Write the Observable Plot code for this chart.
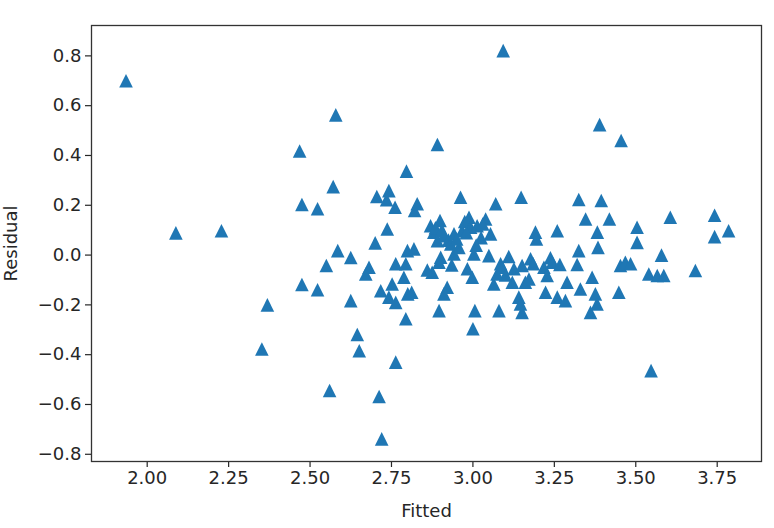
<!DOCTYPE html>
<html>
<head>
<meta charset="utf-8">
<script src="https://cdn.jsdelivr.net/npm/d3@7"></script>
<script src="https://cdn.jsdelivr.net/npm/@observablehq/plot@0.6"></script>
<style>
  html, body { margin: 0; padding: 0; background: #ffffff; }
  #chart { width: 774px; height: 528px; }
</style>
</head>
<body>
<div id="chart"></div>
<script>
const fitted = [
  1.935,2.088,2.228,2.352,2.369,2.468,2.475,2.475,2.523,2.523,
  2.550,2.560,2.571,2.579,2.585,2.625,2.625,2.645,2.651,2.671,
  2.681,2.700,2.705,2.712,2.717,2.720,2.735,2.737,2.742,2.742,
  2.752,2.761,2.763,2.763,2.763,2.788,2.794,2.794,2.796,2.799,
  2.800,2.812,2.819,2.821,2.829,2.870,2.875,2.880,2.891,2.891,
  2.896,2.896,2.899,2.901,2.911,2.911,2.921,2.925,2.932,2.935,
  2.942,2.942,2.957,2.962,2.967,2.975,2.983,2.988,2.993,2.998,
  3.000,3.003,3.006,3.013,3.025,3.039,3.049,3.054,3.064,3.070,
  3.074,3.080,3.085,3.090,3.093,3.110,3.121,3.126,3.141,3.146,
  3.148,3.151,3.151,3.161,3.172,3.177,3.185,3.192,3.195,3.218,
  3.223,3.228,3.238,3.244,3.259,3.259,3.267,3.284,3.289,3.320,
  3.325,3.325,3.330,3.346,3.361,3.366,3.376,3.381,3.382,3.384,
  3.389,3.394,3.419,3.448,3.453,3.455,3.468,3.484,3.504,3.504,
  3.540,3.547,3.566,3.579,3.586,3.606,3.683,3.742,3.742,3.785,
  2.885,2.905,2.950,2.980,3.030,2.860,3.010,3.100
];
const residual = [
  0.700,0.089,0.098,-0.377,-0.200,0.418,0.203,-0.118,0.186,-0.139,
  -0.042,-0.544,0.275,0.563,0.018,-0.010,-0.183,-0.319,-0.384,-0.076,
  -0.049,0.049,0.235,-0.568,-0.143,-0.738,0.222,0.105,0.259,-0.169,
  -0.116,0.192,-0.190,-0.035,-0.430,-0.089,-0.035,-0.256,0.337,0.018,
  -0.156,-0.149,0.025,0.179,0.206,0.118,-0.069,0.092,0.444,0.058,
  -0.029,-0.223,0.139,-0.009,0.078,-0.156,-0.129,0.060,0.045,-0.040,
  0.085,0.005,0.031,0.232,0.098,0.135,-0.055,0.152,0.112,-0.089,
  -0.296,0.005,-0.223,0.118,0.070,0.145,-0.002,0.085,-0.116,0.206,
  -0.076,-0.223,-0.035,-0.049,0.821,-0.006,-0.109,-0.055,-0.169,-0.196,
  0.232,-0.230,-0.042,-0.109,-0.096,-0.015,-0.035,0.092,0.065,-0.049,
  -0.149,-0.082,-0.011,-0.029,0.098,-0.169,-0.038,-0.183,-0.109,-0.038,
  0.018,0.223,-0.136,0.145,-0.230,-0.089,-0.156,-0.196,0.092,0.031,
  0.524,0.219,0.145,-0.149,-0.042,0.460,-0.029,-0.035,0.112,0.051,
  -0.076,-0.464,-0.082,0.000,-0.082,0.152,-0.062,0.160,0.074,0.098,
  0.110,0.100,0.065,0.090,0.125,-0.060,0.040,-0.080
];
const xTicks = [2.00, 2.25, 2.50, 2.75, 3.00, 3.25, 3.50, 3.75];
const yTicks = [-0.8, -0.6, -0.4, -0.2, 0.0, 0.2, 0.4, 0.6, 0.8];
const xLabel = "Fitted";
const yLabel = "Residual";

const data = fitted.map((f, i) => ({fitted: f, residual: residual[i]}));

// matplotlib-style "^" marker: isosceles triangle, as tall as wide, bbox-centred
const triangleUp = {
  draw(ctx, size) {
    const a = Math.sqrt(size / Math.PI);
    ctx.moveTo(0, -a);
    ctx.lineTo(a, a);
    ctx.lineTo(-a, a);
    ctx.closePath();
  }
};

const chart = Plot.plot({
  width: 774,
  height: 528,
  marginLeft: 91,
  marginRight: 13,
  marginTop: 25,
  marginBottom: 67,
  style: {fontFamily: "'DejaVu Sans', sans-serif", fontSize: "18px", color: "#262626", background: "#ffffff"},
  x: {domain: [1.829, 3.886]},
  y: {domain: [-0.829, 0.922]},
  marks: [
    Plot.axisX({
      ticks: xTicks,
      tickFormat: d => d.toFixed(2),
      tickSize: 6,
      tickPadding: 4,
      strokeWidth: 1.2,
      label: xLabel,
      labelAnchor: "center",
      labelArrow: "none",
      labelOffset: 55
    }),
    Plot.axisY({
      ticks: yTicks,
      tickFormat: d => (d < 0 ? "\u2212" : "") + Math.abs(d).toFixed(1),
      tickSize: 6,
      tickPadding: 4,
      strokeWidth: 1.2,
      label: yLabel,
      labelAnchor: "center",
      labelArrow: "none",
      labelOffset: 87
    }),
    Plot.dot(data, {x: "fitted", y: "residual", symbol: triangleUp, r: 6.8, fill: "#1f77b4", stroke: "none"}),
    Plot.frame({stroke: "#333333", strokeWidth: 1.3})
  ]
});
document.getElementById("chart").appendChild(chart);
</script>
</body>
</html>
